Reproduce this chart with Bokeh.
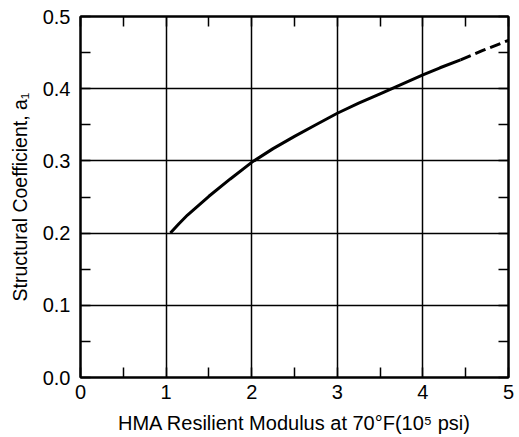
from bokeh.plotting import figure
from bokeh.models import (LinearAxis, SingleIntervalTicker, Range1d,
                          PrintfTickFormatter, CustomJSTickFormatter)
from bokeh.embed import file_html
from bokeh.resources import INLINE

# Data
x_solid = [1.05, 1.15, 1.25, 1.5, 1.75, 2.0, 2.25, 2.5, 2.75, 3.0, 3.25, 3.5, 3.75, 4.0, 4.2, 4.44]
y_solid = [0.200, 0.213, 0.225, 0.251, 0.275, 0.298, 0.317, 0.334, 0.350, 0.366, 0.380, 0.393, 0.406, 0.419, 0.429, 0.440]
x_dash = [4.44, 4.7, 5.0]
y_dash = [0.440, 0.453, 0.467]

x_title = "HMA Resilient Modulus at 70°F(10⁵ psi)"
y_title = "Structural Coefficient, a₁"

FONT = "Liberation Sans"

p = figure(x_range=Range1d(0, 5), y_range=Range1d(0, 0.5),
           frame_width=428, frame_height=361,
           min_border_left=80, min_border_right=10, min_border_top=16, min_border_bottom=58,
           output_backend="svg", toolbar_location=None,
           background_fill_color="white", border_fill_color="white")

p.outline_line_color = "black"
p.outline_line_width = 2

xt = SingleIntervalTicker(interval=1, num_minor_ticks=2)
yt = SingleIntervalTicker(interval=0.1, num_minor_ticks=2)

p.xaxis.ticker = xt
p.yaxis.ticker = yt
p.yaxis.formatter = PrintfTickFormatter(format="%.1f")

def style_axis(ax):
    ax.axis_line_color = "black"
    ax.axis_line_width = 2
    ax.major_tick_in = 0
    ax.major_tick_out = 0
    ax.minor_tick_in = 10
    ax.minor_tick_out = 0
    ax.minor_tick_line_color = "black"
    ax.minor_tick_line_width = 1.5
    ax.major_label_text_font = FONT
    ax.major_label_text_font_size = "20px"
    ax.major_label_text_color = "black"
    ax.axis_label_text_font = FONT
    ax.axis_label_text_font_style = "normal"
    ax.axis_label_text_color = "black"

for ax in p.xaxis:
    style_axis(ax)
    ax.axis_label = x_title
    ax.axis_label_text_font_size = "20px"
    ax.major_label_standoff = 7
    ax.axis_label_standoff = 10
for ax in p.yaxis:
    style_axis(ax)
    ax.axis_label = y_title
    ax.axis_label_text_font_size = "19.5px"
    ax.major_label_standoff = 10
    ax.axis_label_standoff = 9

blank = CustomJSTickFormatter(code="return ''")
ax_top = LinearAxis(ticker=SingleIntervalTicker(interval=1, num_minor_ticks=2), formatter=blank)
style_axis(ax_top)
ax_top.major_label_standoff = 0
p.add_layout(ax_top, "above")
ax_right = LinearAxis(ticker=SingleIntervalTicker(interval=0.1, num_minor_ticks=2), formatter=blank)
style_axis(ax_right)
ax_right.major_label_standoff = 0
p.add_layout(ax_right, "right")

p.xgrid.ticker = xt
p.ygrid.ticker = yt
p.grid.grid_line_color = "black"
p.grid.grid_line_width = 1.5
p.grid.grid_line_alpha = 1.0

p.line(x_solid, y_solid, line_color="black", line_width=3)
p.line(x_dash, y_dash, line_color="black", line_width=3, line_dash="11 5")

open("out.html", "w").write(file_html(p, INLINE))
